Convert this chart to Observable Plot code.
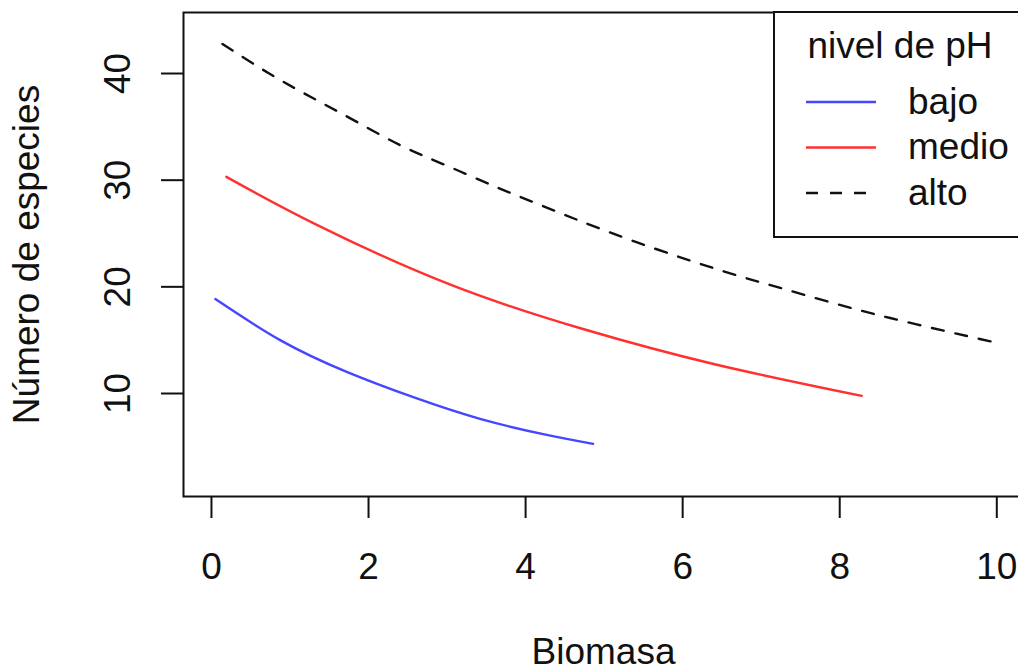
<!DOCTYPE html>
<html>
<head>
<meta charset="utf-8">
<script src="https://cdn.jsdelivr.net/npm/d3@7"></script>
<script src="https://cdn.jsdelivr.net/npm/@observablehq/plot@0.6"></script>
<style>
  html, body { margin: 0; padding: 0; background: white; overflow: hidden; }
  #wrap { position: relative; width: 1018px; height: 672px; overflow: hidden; }
  #wrap svg { max-width: none; }
  #legend { position: absolute; left: 773px; top: 11px; width: 262px; height: 227px; }
</style>
</head>
<body>
<div id="wrap"><div id="legend"></div></div>
<script>
// Data
const xTicks = [0, 2, 4, 6, 8, 10];
const yTicks = [10, 20, 30, 40];

const bajoX = [0.05, 0.88, 1.73, 2.57, 3.42, 4.27, 4.86];
const bajoY = [18.85, 14.98, 12.0, 9.65, 7.62, 6.12, 5.28];

const medioX = [0.19, 1.31, 3.01, 4.72, 6.42, 8.28];
const medioY = [30.31, 25.93, 20.30, 16.07, 12.72, 9.78];

const altoX = [0.14, 0.73, 1.26, 1.81, 2.40, 2.98, 3.57, 4.14, 5.31, 6.52, 7.13, 8.07, 8.98, 9.97];
const altoY = [42.77, 40.02, 37.82, 35.63, 33.29, 31.41, 29.53, 27.81, 24.46, 21.46, 20.14, 18.17, 16.48, 14.80];

const seriesNames = ["bajo", "medio", "alto"];
const seriesColors = ["#4646ff", "#ff3030", "#111111"];
const seriesDash = [null, null, "12,12"];
const legendTitle = "nivel de pH";
const xLabel = "Biomasa";
const yLabel = "Número de especies";

const toRows = (xs, ys) => xs.map((x, i) => ({x, y: ys[i]}));
const bajo = toRows(bajoX, bajoY);
const medio = toRows(medioX, medioY);
const alto = toRows(altoX, altoY);

const FONT = "'Liberation Sans', Arial, Helvetica, sans-serif";

const chart = Plot.plot({
  width: 1040,
  height: 672,
  marginLeft: 183,
  marginRight: 17,
  marginTop: 12,
  marginBottom: 176,
  x: {domain: [-0.356, 10.34]},
  y: {domain: [0.344, 45.72]},
  style: {fontFamily: FONT, fontSize: "37px", background: "white", color: "#111"},
  marks: [
    Plot.line(bajo, {x: "x", y: "y", stroke: seriesColors[0], strokeWidth: 2.4, curve: "natural"}),
    Plot.line(medio, {x: "x", y: "y", stroke: seriesColors[1], strokeWidth: 2.4, curve: "natural"}),
    Plot.line(alto, {x: "x", y: "y", stroke: seriesColors[2], strokeWidth: 2.4, strokeDasharray: seriesDash[2], curve: "natural"}),
    Plot.frame({stroke: "#111", strokeWidth: 2}),
    Plot.axisX({ticks: xTicks, tickSize: 22, tickFormat: () => "", label: null, stroke: "#111", strokeWidth: 2}),
    Plot.axisY({ticks: yTicks, tickSize: 22, tickFormat: () => "", label: null, stroke: "#111", strokeWidth: 2}),
    Plot.text(xTicks, {x: d => d, text: d => String(d), frameAnchor: "bottom", dy: 71, lineAnchor: "middle", fontSize: 37, fill: "#111"}),
    Plot.text(yTicks, {y: d => d, text: d => String(d), frameAnchor: "left", dx: -65, rotate: -90, textAnchor: "middle", lineAnchor: "middle", fontSize: 37, fill: "#111"}),
    Plot.text([xLabel], {frameAnchor: "bottom", dy: 156, lineAnchor: "middle", fontSize: 37, fill: "#111"}),
    Plot.text([yLabel], {frameAnchor: "left", dx: -156, rotate: -90, textAnchor: "middle", lineAnchor: "middle", fontSize: 37, fill: "#111"})
  ]
});
document.getElementById("wrap").appendChild(chart);

// Legend overlay
const lg = d3.select("#legend").append("svg")
  .attr("width", 262).attr("height", 227)
  .style("font-family", FONT);
lg.append("rect").attr("x", 1).attr("y", 1).attr("width", 300).attr("height", 225)
  .attr("fill", "white").attr("stroke", "#111").attr("stroke-width", 2);
lg.append("text").attr("x", 127).attr("y", 37).attr("text-anchor", "middle")
  .attr("dominant-baseline", "middle").attr("font-size", 37).attr("fill", "#111").text(legendTitle);
seriesNames.forEach((name, i) => {
  const cy = 91 + i * 45.5;
  lg.append("line").attr("x1", 33).attr("x2", 103).attr("y1", cy).attr("y2", cy)
    .attr("stroke", seriesColors[i]).attr("stroke-width", 2.4)
    .attr("stroke-dasharray", seriesDash[i]);
  lg.append("text").attr("x", 135).attr("y", cy + 2).attr("dominant-baseline", "middle")
    .attr("font-size", 37).attr("fill", "#111").text(name);
});
</script>
</body>
</html>
